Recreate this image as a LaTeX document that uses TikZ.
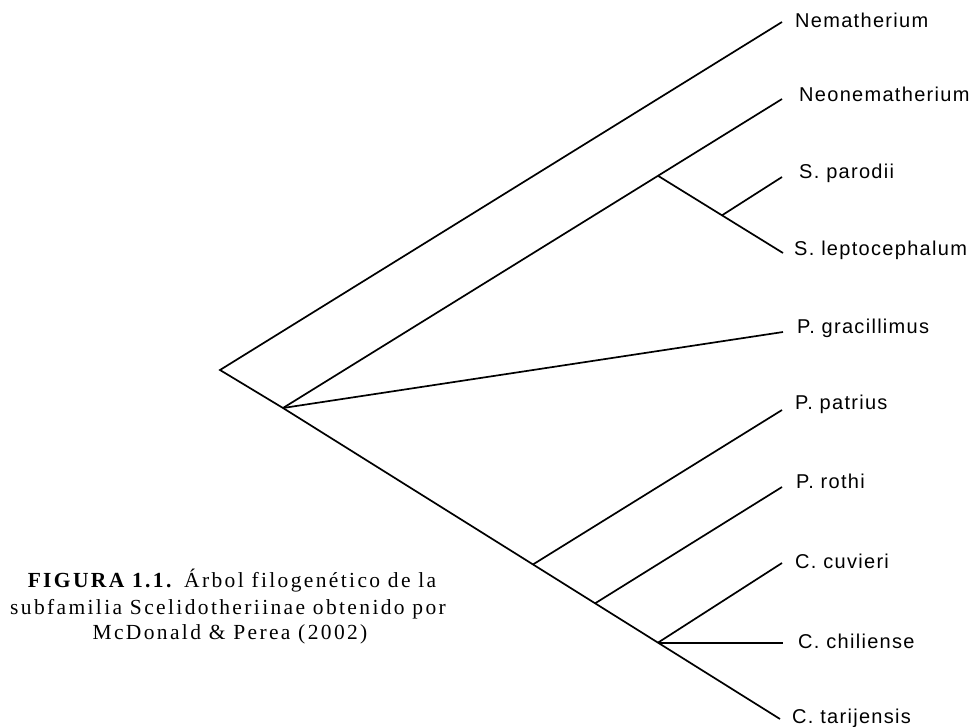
\documentclass[tikz,border=0pt]{standalone}
\usepackage{fontspec}
\setmainfont{Liberation Serif}
\newfontfamily\labfont[LetterSpace=6.5]{Liberation Sans}
\newfontfamily\capfont[LetterSpace=11]{Liberation Serif}
\usetikzlibrary{calc}
\begin{document}
\begin{tikzpicture}[x=1pt,y=-1pt,
  branch/.style={line width=1.7pt, black},
  lab/.style={anchor=base west, inner sep=0pt, font=\labfont\fontsize{20}{22}\selectfont, text=black},
  capline/.style={anchor=base, inner sep=0pt, font=\capfont\fontsize{21.5}{23}\selectfont, text=black}]
\useasboundingbox (0,0) rectangle (976,726);
% tips
\coordinate (root) at (220,370);
\coordinate (A) at (283,408);
\coordinate (tNem) at (782,22);
\coordinate (tNeo) at (782,99);
\coordinate (tSpar) at (782,177);
\coordinate (tSlep) at (783,253);
\coordinate (tPgr) at (783,332);
\coordinate (tPpat) at (782,410);
\coordinate (tProt) at (782,487);
\coordinate (tCcuv) at (782,563);
\coordinate (tCtar) at (780,719);
% inner nodes
\coordinate (SN) at ($(A)!0.7515!(tNeo)$);
\coordinate (SS) at ($(SN)!0.512!(tSlep)$);
\coordinate (P1) at ($(A)!0.503!(tCtar)$);
\coordinate (P2) at ($(A)!0.628!(tCtar)$);
\coordinate (CN) at ($(A)!0.7545!(tCtar)$);
\coordinate (tCchi) at ($(CN)+(125,0)$);
% branches
\draw[branch] (tNem) -- (root) -- (A) -- (tCtar);
\draw[branch] (A) -- (tNeo);
\draw[branch] (A) -- (tPgr);
\draw[branch] (SN) -- (tSlep);
\draw[branch] (SS) -- (tSpar);
\draw[branch] (P1) -- (tPpat);
\draw[branch] (P2) -- (tProt);
\draw[branch] (CN) -- (tCcuv);
\draw[branch] (CN) -- (tCchi);
% labels
\node[lab] (lNem) at (795,27) {Nematherium};
\node[lab] (lNeo) at (799,101) {Neonematherium};
\node[lab] (lSpar) at (799,178) {S. parodii};
\node[lab] (lSlep) at (794,255) {S. leptocephalum};
\node[lab] (lPgr) at (797,333) {P. gracillimus};
\node[lab] (lPpat) at (795,409) {P. patrius};
\node[lab] (lProt) at (796,488) {P. rothi};
\node[lab] (lCcuv) at (795,568) {C. cuvieri};
\node[lab] (lCchi) at (798,648) {C. chiliense};
\node[lab] (lCtar) at (792,723) {C. tarijensis};
% caption
\node[capline] (cap1) at (232,587) {\textbf{FIGURA 1.1.} Árbol filogenético de la};
\node[capline] (cap2) at (228,614) {subfamilia Scelidotheriinae obtenido por};
\node[capline] (cap3) at (230,639) {McDonald \& Perea (2002)};
\end{tikzpicture}
\end{document}
